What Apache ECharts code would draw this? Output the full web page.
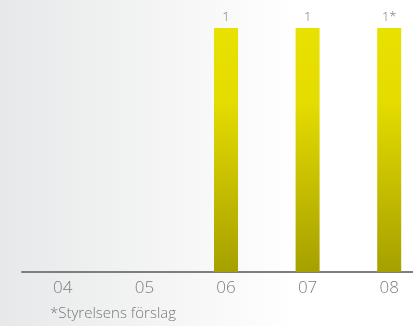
<!DOCTYPE html>
<html>
<head>
<meta charset="utf-8">
<script src="https://cdn.jsdelivr.net/npm/echarts@6/dist/echarts.min.js"></script>
<style>
  html, body { margin: 0; padding: 0; }
  #chart { width: 413px; height: 326px; }
</style>
</head>
<body>
<div id="chart"></div>
<script>
// Dividend per share by year
const years = ['04', '05', '06', '07', '08'];
const dividend = [null, null, 1, 1, 1];
const valueLabels = ['', '', '1', '1', '1*'];
const footnote = '*Styrelsens förslag';

const chart = echarts.init(document.getElementById('chart'));
chart.setOption({
  animation: false,
  backgroundColor: new echarts.graphic.LinearGradient(0, 0, 1, 0, [
    { offset: 0, color: '#e7e8e9' },
    { offset: 0.72, color: '#ffffff' },
    { offset: 1, color: '#ffffff' }
  ]),
  // the last category band runs past the right edge of the canvas
  grid: { left: 22, width: 408, top: 28, height: 244, outerBoundsMode: 'none', containLabel: false },
  xAxis: {
    type: 'category',
    data: years,
    axisLine: { lineStyle: { color: '#7d7e80', width: 2 } },
    axisTick: { show: false },
    axisLabel: {
      color: '#7c7c7c',
      fontFamily: 'Open Sans',
      fontWeight: 300,
      fontSize: 17,
      margin: 8
    }
  },
  yAxis: {
    type: 'value',
    min: 0,
    max: 1,
    show: false,
    splitLine: { show: false }
  },
  series: [{
    type: 'bar',
    data: dividend,
    barWidth: 24,
    itemStyle: {
      color: new echarts.graphic.LinearGradient(0, 0, 0, 1, [
        { offset: 0, color: '#e9e100' },
        { offset: 0.3, color: '#e5dc00' },
        { offset: 1, color: '#a6a000' }
      ])
    },
    label: {
      show: true,
      position: 'top',
      distance: 4,
      color: '#7a7a7a',
      fontFamily: 'Open Sans',
      fontWeight: 300,
      fontSize: 13,
      formatter: p => valueLabels[p.dataIndex]
    }
  }],
  graphic: [{
    type: 'text',
    left: 50,
    top: 306,
    style: {
      text: footnote,
      fill: '#777777',
      font: '300 15px "Open Sans"'
    }
  }]
});
</script>
</body>
</html>
